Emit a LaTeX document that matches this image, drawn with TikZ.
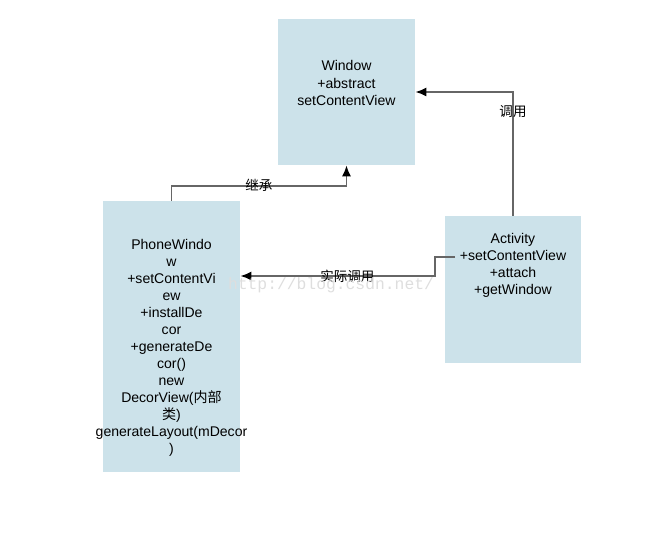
\documentclass[tikz,border=0pt]{standalone}
\usepackage{fontspec}
\setmainfont{Liberation Sans}
\newfontfamily\cjk{Noto Sans CJK SC}
\newfontfamily\wmfont{Liberation Mono}
\usetikzlibrary{arrows.meta}

\begin{document}
\begin{tikzpicture}[x=0.02cm, y=-0.02cm,
  box/.style={fill=colorBox, inner sep=0pt, minimum width=2.74cm},
  txt/.style={align=center, inner sep=0pt, font=\fontsize{8}{9.7}\selectfont},
  link/.style={draw=colorLine, line width=1pt, -{Latex[length=2.2mm, width=1.8mm, black]}},
  lbl/.style={inner sep=0pt, font=\cjk\fontsize{7.7}{9}\selectfont}
    ]
    % colori
    \definecolor{colorBox}{RGB}{204, 226, 234}
    \definecolor{colorLine}{RGB}{102, 102, 102}
    \definecolor{colorMark}{RGB}{222, 222, 222}

    \useasboundingbox (0,0) rectangle (647,543);

    % Blocchi
    \node[box, minimum height=2.92cm] (window) at (346.5,92) {};
    \node[txt] (windowtxt) at (346.5,83) {Window\\+abstract\\setContentView};

    \node[box, minimum height=5.42cm] (phone) at (171.5,336.5) {};
    \node[txt] (phonetxt) at (171.5,348) {PhoneWindo\\w\\+setContentVi\\ew\\+installDe\\cor\\+generateDe\\cor()\\new\\DecorView({\cjk 内部}\\{\cjk 类})\\generateLayout(mDecor\\)};

    \node[box, minimum width=2.72cm, minimum height=2.94cm] (activity) at (513,289.5) {};
    \node[txt] (activitytxt) at (513,265.5) {Activity\\+setContentView\\+attach\\+getWindow};

    % Collegamenti
    \draw[link] (phone.north) -- ++(0,-15) -| node[lbl, pos=0.25] {继承} (window.south);
    \draw[link] (activity.north) |- node[lbl, pos=0.42] {调用} (window.east);

    \coordinate (src) at (455,257);
    \draw[link] (src) -| ++(-20,19) -- node[lbl, pos=0.45] {实际调用} (phone.east |- 0,276);

    % watermark
    \node[inner sep=0pt, text=colorMark, font=\wmfont\fontsize{9.3}{10}\selectfont] (mark) at (331,285) {http://blog.csdn.net/};
\end{tikzpicture}
\end{document}
